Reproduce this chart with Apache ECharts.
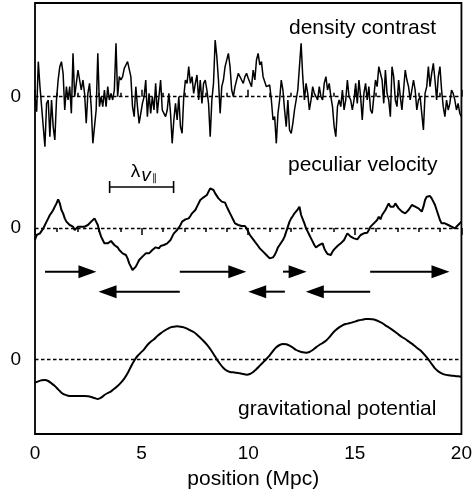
<!DOCTYPE html>
<html><head><meta charset="utf-8">
<script src="https://cdn.jsdelivr.net/npm/echarts@6/dist/echarts.min.js"></script>
<style>html,body{margin:0;padding:0;background:#fff}#c{width:475px;height:500px}</style>
</head><body><div id="c"></div>
<script>
// ---- data (arbitrary units; only the zero level is labelled) ----
const xTicks = [0, 5, 10, 15, 20];
const xRange = [0, 20];
const panelLabels = ['density contrast', 'peculiar velocity', 'gravitational potential'];
const xTitle = 'position (Mpc)';

const densityContrast = [
0,-0.45,1.05,0.3,-0.3,-0.35,-1.5,-0.2,-0.1,-1.2,
-0.1,-0.9,-1.3,-0.1,0.5,0.9,1.05,0.7,-0.4,0.3,
-0.1,0.3,-0.5,1.3,0,0.4,0.8,0.5,0.2,0.5,
0.1,-0.8,0.1,0.4,-0.3,-1.4,-0.9,-0.4,1.3,-0.3,
0,-0.3,0.2,-0.3,0.3,-0.1,0.1,-0.1,0.2,1.6,
0,0.6,0.5,0.6,0.85,0.95,1.05,1.0,0.6,-0.3,
-0.6,0.3,-0.3,-0.8,-0.8,-0.2,0,0.5,-0.6,0.1,
-0.5,0,-0.4,0.4,-0.5,0,0.5,-0.4,-0.5,-0.6,
-0.4,0.1,-0.5,-1.4,-0.7,-0.2,-0.7,0,-0.9,-1.1,
0,0.5,0.4,0.9,0.4,0.6,0.1,0.4,0.65,-0.1,
0.5,-0.2,0.4,0.5,0.2,-0.2,-1.2,-0.1,0.4,1.7,
1.2,0.5,-0.5,0.3,0.5,0.9,0.95,1.3,0.9,0.2,
0,0.3,0.5,0.7,0.75,0.5,0.4,0.6,0.7,0.55,
0.5,0.3,0.8,0.5,1.1,1.3,0.95,1.05,0.6,0.45,
0.3,0.25,0.35,-0.1,-0.7,-0.6,-1.4,-0.5,-0.1,0.5,
0.2,-0.4,-0.9,-0.1,-1.0,-1.1,-0.8,-0.4,-0.1,0.2,
0.9,1.6,0.6,-0.1,0.4,0.1,-0.4,-0.1,0.3,0.1,
0,-0.1,0.3,0,-0.1,0.4,0.6,0.2,0.4,0,
-0.3,-0.9,-1.2,-0.3,-0.1,-0.3,0.2,-0.4,-0.1,0.5,
0,-0.1,-0.4,-0.1,0.4,-0.2,0.5,0,-0.7,0.1,
0.4,-0.1,0.3,-0.4,-0.5,0,0.5,0.3,0.9,0.95,
0.5,-0.2,0.8,0.1,-0.1,-0.6,0.9,0.6,-0.1,-0.3,
0.5,0,-0.4,0.2,0.8,0.5,0.3,-0.1,-0.1,0.5,
0.2,-0.4,-0.1,0,-0.5,-1.0,0.1,0.3,0.9,0.3,
0.7,1.0,0.5,-0.1,0.6,0.9,0.2,-0.3,-0.6,-0.1,
-0.4,-0.2,0.2,0.1,-0.1,-0.4,-0.2,-0.5,-0.6
];

const peculiarVelocity = [
-0.36,-0.21,-0.24,-0.16,-0.11,-0.01,0.09,0.19,0.29,0.39,
0.46,0.54,0.64,0.74,0.86,0.74,0.54,0.44,0.29,0.19,
0.14,0.09,0.14,0.04,-0.06,-0.01,0.04,-0.01,0.04,0.09,
0.04,-0.01,0.09,0.14,0.19,0.24,0.29,0.26,0.09,-0.11,
-0.26,-0.36,-0.46,-0.51,-0.46,-0.41,-0.39,-0.41,-0.51,-0.56,
-0.58,-0.66,-0.71,-0.76,-0.78,-0.81,-0.91,-1.06,-1.16,-1.26,
-1.24,-1.16,-1.06,-0.96,-0.91,-0.86,-0.81,-0.76,-0.81,-0.76,
-0.71,-0.66,-0.61,-0.58,-0.56,-0.61,-0.54,-0.51,-0.51,-0.48,
-0.46,-0.41,-0.36,-0.26,-0.16,-0.11,-0.06,0.01,0.09,0.19,
0.24,0.26,0.32,0.29,0.36,0.44,0.49,0.54,0.64,0.74,
0.84,0.89,0.92,0.94,0.99,1.09,1.19,1.24,1.14,1.04,
0.99,0.89,0.84,0.79,0.74,0.76,0.64,0.54,0.44,0.34,
0.24,0.14,0.09,0.09,0.06,0.06,0.04,0.06,-0.01,-0.11,
-0.21,-0.26,-0.34,-0.41,-0.46,-0.54,-0.61,-0.66,-0.71,-0.76,
-0.81,-0.86,-0.91,-0.94,-0.88,-0.81,-0.71,-0.58,-0.51,-0.46,
-0.36,-0.26,-0.11,0.04,0.19,0.29,0.36,0.44,0.49,0.56,
0.64,0.39,0.44,0.14,-0.01,-0.11,-0.21,-0.31,-0.41,-0.51,
-0.58,-0.54,-0.51,-0.56,-0.46,-0.61,-0.71,-0.78,-0.84,-0.81,
-0.71,-0.64,-0.58,-0.54,-0.56,-0.46,-0.41,-0.36,-0.26,-0.16,
-0.21,-0.26,-0.28,-0.31,-0.31,-0.34,-0.28,-0.21,-0.26,-0.16,
-0.21,-0.14,-0.06,0.04,0.09,0.14,0.19,0.24,0.34,0.26,
0.39,0.44,0.54,0.64,0.74,0.64,0.59,0.64,0.74,0.69,
0.59,0.54,0.49,0.46,0.44,0.49,0.54,0.59,0.69,0.72,
0.64,0.69,0.59,0.54,0.49,0.64,0.84,0.94,0.99,0.96,
0.89,0.79,0.69,0.54,0.39,0.24,0.14,0.09,0.14,0.19,
0.09,0.14,0.04,-0.01,-0.01,0.04,0.09,0.14,0.19
];

const gravitationalPotential = [
-0.70,-0.66,-0.63,-0.62,-0.65,-0.72,-0.80,-0.90,-1.00,-1.06,
-1.09,-1.10,-1.10,-1.10,-1.10,-1.10,-1.11,-1.13,-1.16,-1.19,
-1.15,-1.07,-1.01,-0.96,-0.88,-0.80,-0.70,-0.58,-0.42,-0.22,
-0.04,0.10,0.20,0.30,0.43,0.53,0.60,0.70,0.78,0.85,
0.91,0.96,0.98,0.99,0.98,0.96,0.92,0.87,0.82,0.74,
0.65,0.55,0.44,0.31,0.16,0.00,-0.14,-0.26,-0.34,-0.38,
-0.39,-0.40,-0.42,-0.44,-0.46,-0.44,-0.38,-0.29,-0.19,-0.09,
0.01,0.12,0.25,0.36,0.43,0.46,0.45,0.41,0.35,0.28,
0.24,0.21,0.20,0.22,0.28,0.36,0.43,0.49,0.56,0.66,
0.78,0.88,0.96,1.02,1.06,1.08,1.11,1.14,1.17,1.19,
1.21,1.21,1.20,1.18,1.14,1.09,1.02,0.96,0.89,0.82,
0.74,0.67,0.61,0.54,0.47,0.39,0.31,0.23,0.12,0.00,
-0.14,-0.27,-0.36,-0.42,-0.46,-0.48,-0.49,-0.50,-0.51,-0.52
];

// flow arrows (Mpc): [tail, tip]
const flowArrowsRight = [[0.47, 2.88], [6.79, 9.91], [11.63, 12.74], [15.72, 19.44]];
const flowArrowsLeft = [[6.79, 2.98], [11.72, 10.0], [15.72, 12.70]];
// coherence-length scale bar (Mpc)
const scaleBar = [3.5, 6.5];

// ---- build ----
function pairs(arr) {
  const n = arr.length, step = (xRange[1] - xRange[0]) / (n - 1);
  return arr.map((v, i) => [xRange[0] + i * step, v]);
}
const FONT = "'Liberation Sans', Arial, Helvetica, sans-serif";
const ROW_RIGHT = -1.31, ROW_LEFT = -1.91, BAR_Y = 1.23; // velocity-axis units

const zeroLine = {
  silent: true, symbol: 'none', animation: false,
  lineStyle: { color: '#000', type: [3.5, 2.5], width: 1.3 },
  label: { show: true, position: 'start', distance: 14, formatter: '0', color: '#000', fontSize: 19, fontFamily: FONT },
  data: [{ yAxis: 0 }]
};

const arrowData = flowArrowsRight.map(a => [a[0], a[1], ROW_RIGHT])
  .concat(flowArrowsLeft.map(a => [a[0], a[1], ROW_LEFT]));

const chart = echarts.init(document.getElementById('c'), null, { renderer: 'canvas' });
const xCommon = {
  type: 'value', min: xRange[0], max: xRange[1], interval: 5,
  axisLine: { show: false },
  axisTick: { show: true, inside: true, length: 7, lineStyle: { color: '#000', width: 1.5 } },
  minorTick: { show: true, splitNumber: 5, length: 4, lineStyle: { color: '#000', width: 1.5 } },
  splitLine: { show: false }, minorSplitLine: { show: false }
};
chart.setOption({
  animation: false,
  textStyle: { fontFamily: FONT },
  grid: { left: 35, right: 10, top: 3, bottom: 66, show: true, borderColor: '#000', borderWidth: 1.8, backgroundColor: 'transparent' },
  xAxis: [
    Object.assign({}, xCommon, {
      position: 'bottom',
      axisLabel: { show: true, color: '#000', fontSize: 19, margin: 10, fontFamily: FONT,
        formatter: v => (xTicks.indexOf(v) >= 0 ? String(v) : '') },
      name: xTitle, nameLocation: 'middle', nameGap: 35,
      nameTextStyle: { color: '#000', fontSize: 21, fontFamily: FONT, padding: [0, 0, 0, 10] }
    }),
    Object.assign({}, xCommon, { position: 'top', axisLabel: { show: false } })
  ],
  yAxis: [
    { type: 'value', show: false, min: -10.12, max: 2.81 },
    { type: 'value', show: false, min: -6.18, max: 6.75 },
    { type: 'value', show: false, min: -2.24, max: 10.69 }
  ],
  series: [
    { type: 'line', name: panelLabels[0], xAxisIndex: 0, yAxisIndex: 0, data: pairs(densityContrast),
      showSymbol: false, lineStyle: { color: '#000', width: 1.5 }, markLine: zeroLine },
    { type: 'line', name: panelLabels[1], xAxisIndex: 0, yAxisIndex: 1, data: pairs(peculiarVelocity),
      showSymbol: false, lineStyle: { color: '#000', width: 2 }, markLine: zeroLine },
    { type: 'line', name: panelLabels[2], xAxisIndex: 0, yAxisIndex: 2, data: pairs(gravitationalPotential),
      showSymbol: false, smooth: 0.3, lineStyle: { color: '#000', width: 2 }, markLine: zeroLine },
    { type: 'custom', xAxisIndex: 0, yAxisIndex: 1, silent: true, data: arrowData,
      encode: { x: [0, 1], y: 2 },
      renderItem: function (params, api) {
        const p1 = api.coord([api.value(0), api.value(2)]);
        const p2 = api.coord([api.value(1), api.value(2)]);
        const dir = p2[0] > p1[0] ? 1 : -1;
        const headLen = 18, half = 6.5;
        const base = p2[0] - dir * headLen;
        return { type: 'group', children: [
          { type: 'line', shape: { x1: p1[0], y1: p1[1], x2: base + dir, y2: p2[1] }, style: { stroke: '#000', lineWidth: 2 } },
          { type: 'polygon', shape: { points: [[p2[0], p2[1]], [base, p2[1] - half], [base, p2[1] + half]] }, style: { fill: '#000' } }
        ] };
      } },
    { type: 'custom', xAxisIndex: 0, yAxisIndex: 1, silent: true, data: [[scaleBar[0], scaleBar[1], BAR_Y]],
      encode: { x: [0, 1], y: 2 },
      renderItem: function (params, api) {
        const p1 = api.coord([api.value(0), api.value(2)]);
        const p2 = api.coord([api.value(1), api.value(2)]);
        const mid = (p1[0] + p2[0]) / 2, y = p1[1];
        const st = { stroke: '#000', lineWidth: 1.6 };
        return { type: 'group', children: [
          { type: 'line', shape: { x1: p1[0], y1: y, x2: p2[0], y2: y }, style: st },
          { type: 'line', shape: { x1: p1[0], y1: y - 6, x2: p1[0], y2: y + 6 }, style: st },
          { type: 'line', shape: { x1: p2[0], y1: y - 6, x2: p2[0], y2: y + 6 }, style: st },
          { type: 'text', style: { text: 'λ', x: mid - 6, y: y - 15.5, align: 'center', verticalAlign: 'middle', fill: '#000', font: "19px " + FONT } },
          { type: 'text', style: { text: 'v', x: mid + 4.5, y: y - 11, align: 'center', verticalAlign: 'middle', fill: '#000', font: "italic 19px " + FONT } },
          { type: 'text', style: { text: '∥', x: mid + 13, y: y - 8.5, align: 'center', verticalAlign: 'middle', fill: '#000', font: "10px " + FONT } }
        ] };
      } }
  ],
  graphic: [
    { type: 'text', left: 289, top: 18, style: { text: panelLabels[0], fill: '#000', font: '21px ' + FONT } },
    { type: 'text', left: 288, top: 155, style: { text: panelLabels[1], fill: '#000', font: '21px ' + FONT } },
    { type: 'text', left: 238, top: 399, style: { text: panelLabels[2], fill: '#000', font: '21px ' + FONT } }
  ]
});
</script>
</body></html>
